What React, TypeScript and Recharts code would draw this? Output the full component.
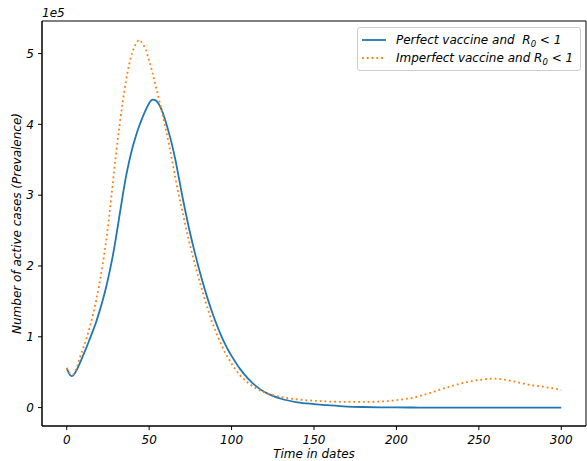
import { LineChart, Line, XAxis, YAxis, Legend, ReferenceArea, Label } from "recharts";

// Active cases (in units of 1e5) over time for the two vaccine scenarios
const days = [
  0, 1, 2, 3, 4, 6, 8, 10, 12, 14, 16, 18, 20, 22, 24, 26, 28, 30, 32, 34, 36, 38, 40, 42, 44, 46,
  48, 50, 52, 54, 56, 58, 60, 62, 64, 66, 68, 70, 72, 74, 76, 78, 80, 82, 84, 86, 88, 90, 92, 94, 96,
  98, 100, 105, 110, 115, 120, 125, 130, 140, 150, 160, 170, 180, 190, 200, 210, 220, 230, 240, 250,
  260, 270, 280, 290, 300,
];
const perfectCases = [
  0.56, 0.5, 0.46, 0.445, 0.455, 0.53, 0.63, 0.74, 0.85, 0.97, 1.09, 1.22, 1.37, 1.53, 1.71, 1.92,
  2.15, 2.42, 2.71, 3.0, 3.27, 3.49, 3.68, 3.84, 3.98, 4.1, 4.21, 4.3, 4.35, 4.34, 4.28, 4.18, 4.04,
  3.88, 3.7, 3.49, 3.25, 3.0, 2.77, 2.55, 2.35, 2.16, 1.98, 1.81, 1.65, 1.5, 1.36, 1.23, 1.11, 1.0,
  0.9, 0.81, 0.73, 0.55, 0.41, 0.3, 0.22, 0.165, 0.125, 0.075, 0.05, 0.03, 0.015, 0.008, 0.004,
  0.002, 0.001, 0, 0, 0, 0, 0, 0, 0, 0, 0,
];
const imperfectCases = [
  0.56, 0.51, 0.48, 0.465, 0.47, 0.56, 0.71, 0.84, 0.98, 1.14, 1.32, 1.53, 1.77, 2.05, 2.37, 2.75,
  3.18, 3.6, 3.98, 4.32, 4.62, 4.86, 5.03, 5.14, 5.19, 5.14, 5.05, 4.9, 4.73, 4.54, 4.35, 4.15, 3.94,
  3.72, 3.48, 3.23, 3.0, 2.79, 2.57, 2.37, 2.18, 2.0, 1.83, 1.67, 1.51, 1.36, 1.22, 1.1, 0.98, 0.88,
  0.78, 0.7, 0.62, 0.46, 0.35, 0.27, 0.215, 0.178, 0.15, 0.115, 0.097, 0.085, 0.08, 0.08, 0.085,
  0.105, 0.14, 0.205, 0.28, 0.345, 0.39, 0.41, 0.375, 0.325, 0.29, 0.25,
];

const X_TICKS = [0, 50, 100, 150, 200, 250, 300];
const Y_TICKS = [0, 1, 2, 3, 4, 5];

const FONT = "'DejaVu Sans', sans-serif";
const BLUE = "#1f77b4";
const ORANGE = "#ff7f0e";

const rows = days.map((d, i) => ({
  day: d,
  perfect: perfectCases[i] * 1e5,
  imperfect: imperfectCases[i] * 1e5,
}));

const series = [
  { key: "perfect", label: "Perfect vaccine and  ", color: BLUE, dash: undefined as string | undefined },
  { key: "imperfect", label: "Imperfect vaccine and ", color: ORANGE, dash: "1.8 3" },
];

const tickStyle = { fill: "#000", fontSize: 12, fontStyle: "italic", fontFamily: FONT };

function renderLegend() {
  return (
    <div
      style={{
        background: "rgba(255,255,255,0.8)",
        border: "1px solid #cccccc",
        borderRadius: 3,
        padding: "3px 6px 3px 4px",
        fontFamily: FONT,
        fontStyle: "italic",
        fontSize: 12,
        color: "#000",
        boxSizing: "border-box",
      }}
    >
      {series.map((s) => (
        <div key={s.key} style={{ display: "flex", alignItems: "center", height: 18 }}>
          <svg width={24} height={4} style={{ flex: "none" }}>
            <line x1={0} y1={2} x2={24} y2={2} stroke={s.color} strokeWidth={1.8} strokeDasharray={s.dash} />
          </svg>
          <span style={{ marginLeft: 10, whiteSpace: "pre", lineHeight: "14px" }}>
            {s.label}R<span style={{ fontSize: 8.5, position: "relative", top: 3 }}>0</span>
            {" < 1"}
          </span>
        </div>
      ))}
    </div>
  );
}

export default function App() {
  return (
    <div style={{ position: "absolute", left: 0, top: 0, width: 587, height: 461, background: "#fff" }}>
      <LineChart width={587} height={461} data={rows} margin={{ top: 21, right: 1, bottom: 0, left: 0 }}>
        <XAxis
          dataKey="day"
          type="number"
          domain={[-15, 315]}
          ticks={X_TICKS}
          allowDataOverflow
          height={35}
          tickSize={4}
          tickMargin={5}
          stroke="#000"
          tick={tickStyle}
        >
          <Label
            content={({ viewBox }: any) => (
              <text
                x={viewBox.x + viewBox.width / 2}
                y={viewBox.y + 32}
                textAnchor="middle"
                fontFamily={FONT}
                fontStyle="italic"
                fontSize={12}
                fill="#000"
              >
                Time in dates
              </text>
            )}
          />
        </XAxis>
        <YAxis
          type="number"
          domain={[-26000, 546000]}
          ticks={Y_TICKS.map((t) => t * 1e5)}
          allowDataOverflow
          tickFormatter={(v: number) => String(v / 1e5)}
          width={42}
          tickSize={4}
          tickMargin={4}
          stroke="#000"
          tick={tickStyle}
        >
          <Label
            content={({ viewBox }: any) => (
              <text
                x={viewBox.x + viewBox.width}
                y={viewBox.y - 4}
                fontFamily={FONT}
                fontStyle="italic"
                fontSize={12}
                fill="#000"
              >
                1e5
              </text>
            )}
          />
          <Label
            content={({ viewBox }: any) => (
              <text
                transform={`translate(20.5, ${viewBox.y + viewBox.height / 2}) rotate(-90)`}
                textAnchor="middle"
                fontFamily={FONT}
                fontStyle="italic"
                fontSize={12}
                fill="#000"
              >
                Number of active cases (Prevalence)
              </text>
            )}
          />
        </YAxis>
        <ReferenceArea x1={-15} x2={315} y1={-26000} y2={546000} fill="none" stroke="#000" strokeOpacity={1} />
        <Legend
          layout="vertical"
          align="center"
          verticalAlign="middle"
          content={renderLegend}
          wrapperStyle={{ top: 27, left: 357, width: 224 }}
        />
        {series.map((s) => (
          <Line
            key={s.key}
            type="monotone"
            dataKey={s.key}
            stroke={s.color}
            strokeWidth={1.8}
            strokeDasharray={s.dash}
            dot={false}
            activeDot={false}
            isAnimationActive={false}
          />
        ))}
      </LineChart>
    </div>
  );
}
